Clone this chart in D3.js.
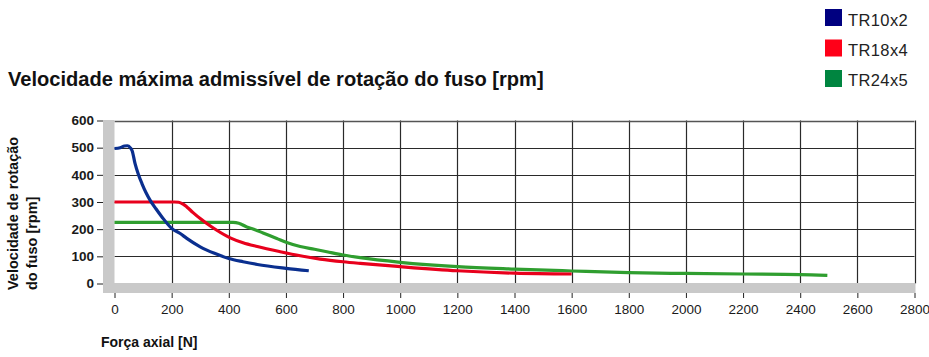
<!DOCTYPE html>
<html><head><meta charset="utf-8">
<script src="https://cdn.jsdelivr.net/npm/d3@7"></script>
<style>body{margin:0;background:#fff}svg{display:block;font-family:"Liberation Sans",Arial,Helvetica,sans-serif}</style>
</head><body>
<script>
const seriesNames = ["TR10x2", "TR18x4", "TR24x5"];
const seriesColors = ["#0a2f8f", "#e8001c", "#2f9e2f"];
const legendColors = ["#000080", "#ff0018", "#008540"];
const tr10x2 = [[0,497],[20,500],[35,506],[45,507],[55,500],[62,488],[72,441],[84,400],[96,368],[110,335],[125,306],[145,275],[166,245],[200,203],[230,184],[253,166],[300,135],[350,111],[400,92],[450,80],[500,70],[600,56],[680,47]];
const tr18x4 = [[0,300],[210,300],[225,299],[240,292],[253,282],[275,261],[300,239],[323,221],[358,196],[405,168],[450,150],[500,136],[580,117],[650,102],[720,90],[800,80],[860,74],[1000,62],[1200,47],[1400,38],[1600,35]];
const tr24x5 = [[0,225],[415,225],[435,222],[463,208],[487,200],[520,186],[568,166],[603,151],[650,136],[700,126],[743,117],[800,105],[860,95],[1000,78],[1200,62],[1400,53],[1600,46],[1800,40],[2000,37],[2200,35],[2400,33],[2495,30]];
const xTicks = [0,200,400,600,800,1000,1200,1400,1600,1800,2000,2200,2400,2600,2800];
const yTicks = [0,100,200,300,400,500,600];
const title = "Velocidade máxima admissível de rotação do fuso [rpm]";
const yTitle = ["Velocidade de rotação", "do fuso [rpm]"];
const xTitle = "Força axial [N]";

const W = 929, H = 357;
const svg = d3.select("body").append("svg").attr("width", W).attr("height", H);
const x = d3.scaleLinear().domain([0, 2800]).range([114.5, 914.5]);
const y = d3.scaleLinear().domain([0, 600]).range([283.5, 120.5]);

// grid
const grid = svg.append("g");
grid.selectAll(".v").data(xTicks.filter(d => d > 0)).join("line")
  .attr("x1", d => Math.round(x(d)) + 0.5).attr("x2", d => Math.round(x(d)) + 0.5)
  .attr("y1", y(600)).attr("y2", y(0)).attr("stroke", "#2a2a2a").attr("stroke-width", 1.2);
grid.selectAll(".h").data(yTicks.filter(d => d > 0)).join("line")
  .attr("x1", x(0)).attr("x2", x(2800))
  .attr("y1", d => Math.round(y(d)) + 0.5).attr("y2", d => Math.round(y(d)) + 0.5)
  .attr("stroke", d => d === 600 ? "#555" : "#2a2a2a").attr("stroke-width", d => d === 600 ? 1.6 : 1.2);

// gray bands
svg.append("rect").attr("x", 103).attr("y", 120).attr("width", x(0) - 103).attr("height", 293 - 120).attr("fill", "#c9c9c9");
svg.append("rect").attr("x", 103).attr("y", y(0) - 0.5).attr("width", x(2800) + 1 - 103).attr("height", 293 - y(0) + 0.5).attr("fill", "#c9c9c9");

// axes
const yAxis = svg.append("g").attr("transform", "translate(103,0)")
  .call(d3.axisLeft(y).tickValues(yTicks).tickSize(6).tickPadding(3).tickFormat(d3.format("d")));
const xAxis = svg.append("g").attr("transform", "translate(0,293)")
  .call(d3.axisBottom(x).tickValues(xTicks).tickSize(5).tickPadding(6).tickFormat(d3.format("d")));
[yAxis, xAxis].forEach(a => {
  a.select(".domain").remove();
  a.selectAll("line").attr("stroke", "#222");
  a.selectAll("text").attr("font-size", 13.5).attr("fill", "#1a1a1a")
    .attr("font-family", '"Liberation Sans",Arial,sans-serif');
});
yAxis.selectAll("text").attr("font-weight", "bold");

// lines
const line = d3.line().x(d => x(d[0])).y(d => y(d[1])).curve(d3.curveMonotoneX);
[tr24x5, tr18x4, tr10x2].forEach((s, i) => {
  svg.append("path").datum(s).attr("d", line).attr("fill", "none")
    .attr("stroke", seriesColors[2 - i]).attr("stroke-width", 3.2).attr("stroke-linejoin", "round");
});

// title
const t = svg.append("text").attr("x", 8).attr("y", 86).attr("font-size", 18)
  .attr("font-weight", "bold").attr("fill", "#111").text(title);
const tl = t.node().getComputedTextLength();
t.attr("font-size", 18 * 536 / tl);

// y title
yTitle.forEach((s, i) => {
  svg.append("text").attr("transform", `translate(${i === 0 ? 18 : 37},290) rotate(-90)`)
    .attr("font-size", 14.5).attr("font-weight", "bold").attr("fill", "#111").text(s);
});
// x title
svg.append("text").attr("x", 101).attr("y", 347).attr("font-size", 14)
  .attr("font-weight", "bold").attr("fill", "#111").text(xTitle);

// legend
const lg = svg.append("g");
seriesNames.forEach((n, i) => {
  lg.append("rect").attr("x", 825).attr("y", 9 + i * 30.5).attr("width", 17).attr("height", 17).attr("fill", legendColors[i]);
  lg.append("text").attr("x", 848).attr("y", 26 + i * 30).attr("font-size", 16.5).attr("letter-spacing", 0.4).attr("fill", "#222").text(n);
});
</script>
</body></html>
